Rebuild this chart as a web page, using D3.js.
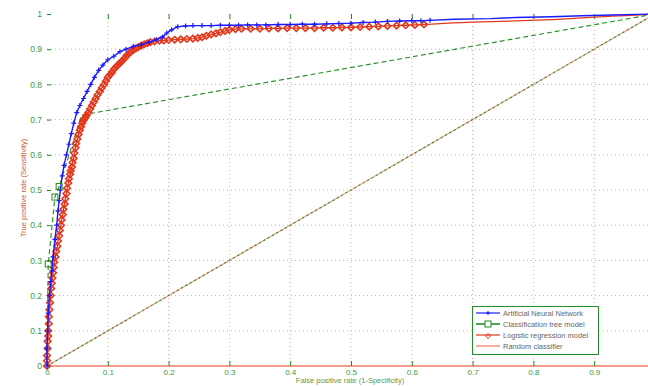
<!DOCTYPE html>
<html>
<head>
<meta charset="utf-8">
<script src="https://cdn.jsdelivr.net/npm/d3@7"></script>
<style>
  html, body { margin: 0; padding: 0; background: #fff; }
  svg { display: block; font-family: "Liberation Sans", Arial, sans-serif; }
</style>
</head>
<body>
<svg id="chart" width="648" height="386"></svg>
<script>
// ROC curves: false positive rate (x) vs true positive rate (y)
const annFpr = [0, 0.000, 0.001, 0.002, 0.004, 0.006, 0.008, 0.010, 0.013, 0.016, 0.018, 0.020, 0.022, 0.025, 0.028, 0.032, 0.036, 0.040, 0.044, 0.049, 0.054, 0.060, 0.066, 0.072, 0.078, 0.085, 0.092, 0.100, 0.110, 0.120, 0.130, 0.142, 0.155, 0.168, 0.180, 0.190, 0.197, 0.205, 0.215, 0.228, 0.240, 0.255, 0.270, 0.285, 0.300, 0.315, 0.330, 0.345, 0.360, 0.380, 0.400, 0.420, 0.440, 0.460, 0.480, 0.500, 0.520, 0.540, 0.560, 0.580, 0.600, 0.615, 0.630];
const annTpr = [0, 0.05, 0.10, 0.15, 0.20, 0.24, 0.27, 0.31, 0.36, 0.40, 0.44, 0.47, 0.50, 0.54, 0.57, 0.60, 0.63, 0.66, 0.69, 0.72, 0.74, 0.76, 0.78, 0.80, 0.82, 0.84, 0.855, 0.87, 0.88, 0.893, 0.90, 0.908, 0.913, 0.92, 0.927, 0.935, 0.946, 0.955, 0.964, 0.966, 0.967, 0.967, 0.967, 0.968, 0.968, 0.968, 0.969, 0.969, 0.969, 0.970, 0.970, 0.971, 0.971, 0.972, 0.973, 0.974, 0.976, 0.977, 0.979, 0.980, 0.981, 0.981, 0.982];
const annTailFpr = [0.630, 0.670, 0.730, 0.770, 0.830, 0.880, 0.930, 1];
const annTailTpr = [0.982, 0.985, 0.987, 0.990, 0.992, 0.995, 0.997, 1];

const treeFpr = [0, 0.000, 0.002, 0.013, 0.020, 0.057, 1];
const treeTpr = [0, 0.02, 0.29, 0.48, 0.51, 0.713, 1];

const logFpr = [0, 0.000, 0.000, 0.001, 0.001, 0.002, 0.002, 0.003, 0.003, 0.004, 0.005, 0.006, 0.007, 0.008, 0.009, 0.010, 0.011, 0.012, 0.014, 0.015, 0.017, 0.018, 0.020, 0.021, 0.023, 0.024, 0.026, 0.027, 0.029, 0.030, 0.032, 0.033, 0.035, 0.036, 0.038, 0.039, 0.041, 0.042, 0.044, 0.045, 0.047, 0.048, 0.050, 0.052, 0.054, 0.056, 0.058, 0.060, 0.063, 0.065, 0.068, 0.071, 0.074, 0.077, 0.080, 0.083, 0.087, 0.090, 0.094, 0.097, 0.100, 0.104, 0.107, 0.110, 0.114, 0.117, 0.121, 0.124, 0.128, 0.131, 0.135, 0.138, 0.142, 0.146, 0.150, 0.155, 0.160, 0.165, 0.170, 0.177, 0.185, 0.192, 0.200, 0.210, 0.220, 0.230, 0.240, 0.248, 0.255, 0.262, 0.270, 0.278, 0.285, 0.293, 0.300, 0.310, 0.320, 0.335, 0.350, 0.365, 0.380, 0.395, 0.410, 0.425, 0.440, 0.455, 0.470, 0.485, 0.500, 0.515, 0.530, 0.545, 0.560, 0.575, 0.590, 0.605, 0.620];
const logTpr = [0, 0.015, 0.03, 0.05, 0.07, 0.085, 0.10, 0.12, 0.14, 0.16, 0.18, 0.20, 0.22, 0.235, 0.25, 0.265, 0.28, 0.295, 0.31, 0.325, 0.34, 0.355, 0.37, 0.385, 0.40, 0.415, 0.43, 0.445, 0.46, 0.475, 0.49, 0.505, 0.52, 0.532, 0.545, 0.555, 0.565, 0.578, 0.59, 0.605, 0.62, 0.632, 0.645, 0.658, 0.67, 0.68, 0.69, 0.698, 0.705, 0.712, 0.72, 0.73, 0.74, 0.75, 0.76, 0.77, 0.78, 0.79, 0.80, 0.81, 0.82, 0.828, 0.835, 0.843, 0.85, 0.856, 0.862, 0.868, 0.875, 0.882, 0.888, 0.893, 0.898, 0.902, 0.906, 0.910, 0.914, 0.917, 0.92, 0.922, 0.924, 0.925, 0.926, 0.927, 0.928, 0.929, 0.930, 0.932, 0.934, 0.938, 0.942, 0.945, 0.948, 0.952, 0.955, 0.957, 0.958, 0.958, 0.958, 0.959, 0.959, 0.960, 0.960, 0.960, 0.960, 0.961, 0.961, 0.962, 0.962, 0.963, 0.964, 0.965, 0.966, 0.967, 0.968, 0.969, 0.970];
const logTailFpr = [0.620, 0.660, 0.700, 0.760, 0.840, 0.880, 0.930, 0.970, 1];
const logTailTpr = [0.970, 0.974, 0.977, 0.980, 0.985, 0.989, 0.994, 0.997, 1];

const randFpr = [0, 1];
const randTpr = [0, 1];

const xTicks = [0, 0.1, 0.2, 0.3, 0.4, 0.5, 0.6, 0.7, 0.8, 0.9];
const xTickLabels = ["0", "0.1", "0.2", "0.3", "0.4", "0.5", "0.6", "0.7", "0.8", "0.9"];
const yTicks = [0, 0.1, 0.2, 0.3, 0.4, 0.5, 0.6, 0.7, 0.8, 0.9, 1];
const yTickLabels = ["0", "0.1", "0.2", "0.3", "0.4", "0.5", "0.6", "0.7", "0.8", "0.9", "1"];

const legendNames = ["Artificial Neural Network", "Classification tree model", "Logistic regression model", "Random classifier"];

const svg = d3.select("#chart");
const x = d3.scaleLinear().domain([0, 1]).range([47, 655]);
const y = d3.scaleLinear().domain([0, 1]).range([366, 14]);

const BLUE = "#1a1aff", RED = "#e2381c", GREEN = "#228b22", SALMON = "#ec7a62", LABEL_GREEN = "#3c9a3c";

const zip = (a, b) => a.map((v, i) => [v, b[i]]);
const line = d3.line().x(d => x(d[0])).y(d => y(d[1]));

// grid
const grid = svg.append("g");
grid.selectAll("line.v").data(xTicks.slice(1)).join("line")
  .attr("x1", d => x(d)).attr("x2", d => x(d)).attr("y1", y(1)).attr("y2", y(0))
  .attr("stroke", "#f2a08a").attr("stroke-width", 1).attr("stroke-dasharray", "1,3");
grid.selectAll("line.h").data(yTicks.slice(1, -1)).join("line")
  .attr("x1", x(0)).attr("x2", 648).attr("y1", d => y(d)).attr("y2", d => y(d))
  .attr("stroke", "#f2a08a").attr("stroke-width", 1).attr("stroke-dasharray", "1,3");

// axes
const xAxis = svg.append("g").attr("transform", `translate(0,${y(0)})`)
  .call(d3.axisBottom(x).tickValues(xTicks).tickFormat((d, i) => xTickLabels[i]).tickSize(-5).tickPadding(3));
xAxis.select(".domain").attr("stroke", SALMON).attr("stroke-width", 1.5).attr("d", `M${x(0)},0H650`);
xAxis.selectAll(".tick line").attr("stroke", GREEN);
xAxis.selectAll(".tick text").attr("fill", LABEL_GREEN).style("font-size", "8px").attr("y", 3);

const xTop = svg.append("g").attr("transform", `translate(0,${y(1)})`)
  .call(d3.axisTop(x).tickValues(xTicks.slice(1)).tickFormat("").tickSize(-5));
xTop.select(".domain").remove();
xTop.selectAll(".tick line").attr("stroke", GREEN);

const yAxis = svg.append("g").attr("transform", `translate(${x(0)},0)`)
  .call(d3.axisLeft(y).tickValues(yTicks).tickFormat((d, i) => yTickLabels[i]).tickSize(-4).tickPadding(5));
yAxis.select(".domain").remove();
yAxis.selectAll(".tick line").attr("stroke", GREEN);
yAxis.selectAll(".tick text").attr("fill", LABEL_GREEN).style("font-size", "8.5px");

// random classifier diagonal
svg.append("path").datum(zip(randFpr, randTpr)).attr("d", line)
  .attr("fill", "none").attr("stroke", "#f09a86").attr("stroke-width", 1.1);
svg.append("path").datum(zip(randFpr, randTpr)).attr("d", line)
  .attr("fill", "none").attr("stroke", GREEN).attr("stroke-width", 1.1).attr("stroke-dasharray", "2,3");

// classification tree
svg.append("path").datum(zip(treeFpr, treeTpr)).attr("d", line)
  .attr("fill", "none").attr("stroke", GREEN).attr("stroke-width", 1.1).attr("stroke-dasharray", "5,3");

// logistic regression
const logPts = zip(logFpr, logTpr);
svg.append("path").datum(logPts.concat(zip(logTailFpr, logTailTpr).slice(1))).attr("d", line)
  .attr("fill", "none").attr("stroke", RED).attr("stroke-width", 1.3);
svg.append("g").selectAll("path").data(logPts).join("path")
  .attr("transform", d => `translate(${x(d[0])},${y(d[1])})`)
  .attr("d", "M0,-3.2L3.3,0L0,3.2L-3.3,0Z")
  .attr("fill", "none").attr("stroke", RED).attr("stroke-width", 1.6);

// neural network
const annPts = zip(annFpr, annTpr);
svg.append("path").datum(annPts.concat(zip(annTailFpr, annTailTpr).slice(1))).attr("d", line)
  .attr("fill", "none").attr("stroke", BLUE).attr("stroke-width", 1.4);
svg.append("g").selectAll("path").data(annPts).join("path")
  .attr("transform", d => `translate(${x(d[0])},${y(d[1])})`)
  .attr("d", "M-2.5,0H2.5M0,-2.5V2.5")
  .attr("fill", "none").attr("stroke", BLUE).attr("stroke-width", 1.2);

// tree markers
svg.append("g").selectAll("rect").data(zip(treeFpr, treeTpr).slice(2, 5)).join("rect")
  .attr("x", d => x(d[0]) - 3).attr("y", d => y(d[1]) - 3).attr("width", 6).attr("height", 6)
  .attr("fill", "none").attr("stroke", GREEN).attr("stroke-width", 1);

// axis titles
svg.append("text").attr("x", 350).attr("y", 383).attr("text-anchor", "middle")
  .attr("fill", "#5a9a46").style("font-size", "7.5px").text("False positive rate (1-Specificity)");
svg.append("text").attr("transform", "translate(26,188) rotate(-90)").attr("text-anchor", "middle")
  .attr("fill", "#c8603c").style("font-size", "7.5px").text("True positive rate (Sensitivity)");

// legend
const lg = svg.append("g");
lg.append("rect").attr("x", 472.5).attr("y", 306.5).attr("width", 126).attr("height", 48)
  .attr("fill", "#fff").attr("stroke", GREEN).attr("stroke-width", 1);
const legendColors = [BLUE, GREEN, RED, SALMON];
legendNames.forEach((name, i) => {
  const cy = 313 + i * 11;
  lg.append("line").attr("x1", 476).attr("x2", 500).attr("y1", cy).attr("y2", cy)
    .attr("stroke", legendColors[i]).attr("stroke-width", i === 1 ? 1.6 : 1.2);
  if (i === 0) lg.append("path").attr("transform", `translate(488,${cy})`).attr("d", "M-2,0H2M0,-2V2")
    .attr("stroke", BLUE).attr("stroke-width", 1);
  if (i === 1) lg.append("rect").attr("x", 485).attr("y", cy - 3).attr("width", 6).attr("height", 6)
    .attr("fill", "#fff").attr("stroke", GREEN).attr("stroke-width", 1);
  if (i === 2) lg.append("path").attr("transform", `translate(488,${cy + 1})`).attr("d", "M0,-2.5L2.3,0L0,2.5L-2.3,0Z")
    .attr("fill", "none").attr("stroke", RED).attr("stroke-width", 1);
  lg.append("text").attr("x", 503).attr("y", cy + 2.8).attr("fill", "#666").style("font-size", "7.5px").text(name);
});
</script>
</body>
</html>
